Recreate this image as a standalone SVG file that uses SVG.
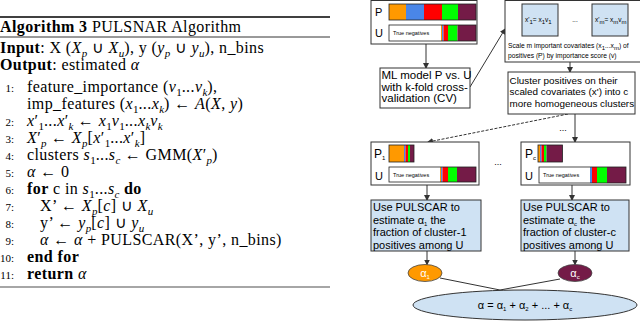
<svg xmlns="http://www.w3.org/2000/svg" width="640" height="322" viewBox="0 0 640 322">
<style>
.alg{font-family:"Liberation Serif","Times New Roman",serif;font-size:16px;letter-spacing:0.4px;fill:#000}
.b{font-weight:bold}
.i{font-style:italic}
.s{font-size:11px;baseline-shift:-3.5px;letter-spacing:0}
.n{font-size:11px;letter-spacing:0}
.sf{font-family:"Liberation Sans",Arial,sans-serif;fill:#000}
.t11{font-size:11px}
.box{fill:#fff;stroke:#333;stroke-width:1}
.lb{fill:#cfe2f3;stroke:#333;stroke-width:1}
.con{stroke:#333;stroke-width:1;fill:none}
.bar{fill:none;stroke:#222;stroke-width:0.8}
.o{fill:#ff9900}.bl{fill:#4a86e8}.r{fill:#ff0000}.g{fill:#00ff00}.p{fill:#741b47}
.sub{font-size:6px;baseline-shift:-2px}
</style>
<defs>
<marker id="ah" markerWidth="6" markerHeight="6" refX="5" refY="3" orient="auto" markerUnits="userSpaceOnUse">
<path d="M0,0 L6,3 L0,6 z" fill="#333"/>
</marker>
</defs>

<g id="algorithm">
<line x1="0" y1="17" x2="330" y2="17" stroke="#000" stroke-width="1.6"/>
<text class="alg" x="0" y="32"><tspan class="b">Algorithm 3</tspan> PULSNAR Algorithm</text>
<line x1="0" y1="37" x2="330" y2="37" stroke="#000" stroke-width="0.8"/>
<text class="alg" x="0" y="53"><tspan class="b">Input</tspan>: X (<tspan class="i">X</tspan><tspan class="s i">p</tspan> ∪ <tspan class="i">X</tspan><tspan class="s i">u</tspan>), y (<tspan class="i">y</tspan><tspan class="s i">p</tspan> ∪ <tspan class="i">y</tspan><tspan class="s i">u</tspan>), n_bins</text>
<text class="alg" x="0" y="70"><tspan class="b">Output</tspan>: estimated <tspan class="i">α</tspan></text>
<text class="alg n" x="14" y="92" text-anchor="end">1:</text>
<text class="alg" x="27" y="92">feature_importance (<tspan class="i">v</tspan><tspan class="s">1</tspan>...<tspan class="i">v</tspan><tspan class="s i">k</tspan>),</text>
<text class="alg" x="27" y="108.5">imp_features (<tspan class="i">x</tspan><tspan class="s">1</tspan>...<tspan class="i">x</tspan><tspan class="s i">k</tspan>) ← <tspan class="i">A</tspan>(<tspan class="i">X</tspan>, <tspan class="i">y</tspan>)</text>
<text class="alg n" x="14" y="125.5" text-anchor="end">2:</text>
<text class="alg" x="27" y="125.5"><tspan class="i">x</tspan>′<tspan class="s">1</tspan>...<tspan class="i">x</tspan>′<tspan class="s i">k</tspan> ← <tspan class="i">x</tspan><tspan class="s">1</tspan><tspan class="i">v</tspan><tspan class="s">1</tspan>...<tspan class="i">x</tspan><tspan class="s i">k</tspan><tspan class="i">v</tspan><tspan class="s i">k</tspan></text>
<text class="alg n" x="14" y="142.5" text-anchor="end">3:</text>
<text class="alg" x="27" y="142.5"><tspan class="i">X</tspan>′<tspan class="s i">p</tspan> ← <tspan class="i">X</tspan><tspan class="s i">p</tspan>[<tspan class="i">x</tspan>′<tspan class="s">1</tspan>...<tspan class="i">x</tspan>′<tspan class="s i">k</tspan>]</text>
<text class="alg n" x="14" y="159.5" text-anchor="end">4:</text>
<text class="alg" x="27" y="159.5">clusters <tspan class="i">s</tspan><tspan class="s">1</tspan>...<tspan class="i">s</tspan><tspan class="s i">c</tspan> ← GMM(<tspan class="i">X</tspan>′<tspan class="s i">p</tspan>)</text>
<text class="alg n" x="14" y="176.5" text-anchor="end">5:</text>
<text class="alg" x="27" y="176.5"><tspan class="i">α</tspan> ← 0</text>
<text class="alg n" x="14" y="193.5" text-anchor="end">6:</text>
<text class="alg" x="27" y="193.5"><tspan class="b">for</tspan> c in <tspan class="i">s</tspan><tspan class="s">1</tspan>...<tspan class="i">s</tspan><tspan class="s i">c</tspan> <tspan class="b">do</tspan></text>
<text class="alg n" x="14" y="210.5" text-anchor="end">7:</text>
<text class="alg" x="40" y="210.5">X’ ← <tspan class="i">X</tspan><tspan class="s i">p</tspan>[<tspan class="i">c</tspan>] ∪ <tspan class="i">X</tspan><tspan class="s i">u</tspan></text>
<text class="alg n" x="14" y="227.5" text-anchor="end">8:</text>
<text class="alg" x="40" y="227.5">y’ ← <tspan class="i">y</tspan><tspan class="s i">p</tspan>[<tspan class="i">c</tspan>] ∪ <tspan class="i">y</tspan><tspan class="s i">u</tspan></text>
<text class="alg n" x="14" y="244.5" text-anchor="end">9:</text>
<text class="alg" x="40" y="244.5"><tspan class="i">α</tspan> ← <tspan class="i">α</tspan> + PULSCAR(X’, y’, n_bins)</text>
<text class="alg n" x="14" y="261.5" text-anchor="end">10:</text>
<text class="alg" x="27" y="261.5"><tspan class="b">end for</tspan></text>
<text class="alg n" x="14" y="278.5" text-anchor="end">11:</text>
<text class="alg" x="27" y="278.5"><tspan class="b">return</tspan> <tspan class="i">α</tspan></text>
<line x1="0" y1="287" x2="330" y2="287" stroke="#888" stroke-width="1.6"/>
</g>

<g id="connectors">
<line class="con" x1="426" y1="44" x2="426" y2="68" marker-end="url(#ah)"/>
<line class="con" x1="470" y1="87" x2="505" y2="29" marker-end="url(#ah)"/>
<line class="con" x1="570" y1="62" x2="570" y2="72" marker-end="url(#ah)"/>
<line class="con" x1="575" y1="114" x2="575" y2="142" marker-end="url(#ah)"/>
<line class="con" x1="568" y1="114" x2="428" y2="142" stroke-dasharray="3 1.5" marker-end="url(#ah)"/>
<line class="con" x1="427" y1="185" x2="427" y2="200" marker-end="url(#ah)"/>
<line class="con" x1="572" y1="185" x2="572" y2="200" marker-end="url(#ah)"/>
<line class="con" x1="427" y1="251" x2="427" y2="264.5" marker-end="url(#ah)"/>
<line class="con" x1="575" y1="251" x2="575" y2="264.5" marker-end="url(#ah)"/>
<line class="con" x1="440" y1="278" x2="500" y2="290"/>
<line class="con" x1="560" y1="279" x2="500" y2="290"/>
</g>

<g id="node-pu">
<rect class="box" x="371" y="0.5" width="106" height="43.5"/>
<text class="sf" x="375" y="16" font-size="11">P</text>
<text class="sf" x="375" y="37" font-size="11">U</text>
<rect class="o" x="389" y="4" width="17" height="16"/>
<rect class="bl" x="406" y="4" width="18" height="16"/>
<rect class="r" x="424" y="4" width="18" height="16"/>
<rect class="g" x="442" y="4" width="16" height="16"/>
<rect class="p" x="458" y="4" width="18" height="16"/>
<rect class="bar" x="389" y="4" width="87" height="16"/>
<rect x="389" y="25" width="52" height="16" fill="#fff"/>
<text class="sf" x="393" y="35" font-size="5.5">True negatives</text>
<rect class="o" x="441" y="25" width="1" height="16"/>
<rect class="bl" x="442" y="25" width="1.5" height="16"/>
<rect class="r" x="443.5" y="25" width="4.5" height="16"/>
<rect class="g" x="448" y="25" width="9.5" height="16"/>
<rect class="p" x="457.5" y="25" width="18.5" height="16"/>
<rect class="bar" x="389" y="25" width="87" height="16"/>
</g>

<g id="node-ml">
<rect class="box" x="380" y="68" width="90" height="40"/>
<text class="sf" x="381.5" y="79" font-size="11.5">ML model P vs. U</text>
<text class="sf" x="381.5" y="90.5" font-size="11.5">with k-fold cross-</text>
<text class="sf" x="381.5" y="102" font-size="11.5">validation (CV)</text>
</g>

<g id="node-scale">
<rect class="box" x="505" y="0.5" width="140" height="61.5"/>
<rect class="lb" x="522" y="4" width="36" height="32"/>
<rect class="lb" x="592" y="4" width="36" height="32"/>
<text class="sf" x="525" y="22" font-size="6.5">x'<tspan class="sub">1</tspan>= x<tspan class="sub">1</tspan>v<tspan class="sub">1</tspan></text>
<text class="sf" x="575" y="22" font-size="6.5" text-anchor="middle">...</text>
<text class="sf" x="595" y="22" font-size="6.5">x'<tspan class="sub">m</tspan>= x<tspan class="sub">m</tspan>v<tspan class="sub">m</tspan></text>
<text class="sf" x="508" y="48" font-size="6.7">Scale m important covariates (x<tspan class="sub">1</tspan>...x<tspan class="sub">m</tspan>) of</text>
<text class="sf" x="508" y="58" font-size="6.7">positives (P) by importance score (v)</text>
</g>

<g id="node-cluster">
<rect class="box" x="508" y="72" width="127" height="42"/>
<text class="sf" x="509.5" y="83.5" font-size="9.9">Cluster positives on their</text>
<text class="sf" x="509.5" y="95" font-size="9.9">scaled covariates (x') into c</text>
<text class="sf" x="509.5" y="106.5" font-size="9.9">more homogeneous clusters</text>
</g>

<text class="sf" x="563" y="131" font-size="9" text-anchor="middle">...</text>
<text class="sf" x="498" y="165" font-size="9" text-anchor="middle">...</text>

<g id="node-p1">
<rect class="box" x="371" y="142" width="108" height="43"/>
<text class="sf" x="374" y="158" font-size="12">P<tspan class="sub">1</tspan></text>
<text class="sf" x="375" y="180" font-size="11">U</text>
<rect class="o" x="389" y="145" width="15" height="17"/>
<rect class="bl" x="404" y="145" width="1.5" height="17"/>
<rect class="r" x="405.5" y="145" width="2.5" height="17"/>
<rect class="g" x="408" y="145" width="2" height="17"/>
<rect class="p" x="410" y="145" width="4" height="17"/>
<rect class="bar" x="389" y="145" width="25" height="17"/>
<rect x="389" y="167" width="51" height="15" fill="#fff"/>
<text class="sf" x="393" y="177" font-size="5.5">True negatives</text>
<rect class="o" x="440" y="167" width="1" height="15"/>
<rect class="bl" x="441" y="167" width="1.5" height="15"/>
<rect class="r" x="442.5" y="167" width="5.5" height="15"/>
<rect class="g" x="448" y="167" width="9" height="15"/>
<rect class="p" x="457" y="167" width="19" height="15"/>
<rect class="bar" x="389" y="167" width="87" height="15"/>
</g>

<g id="node-pc">
<rect class="box" x="521" y="142" width="109" height="43"/>
<text class="sf" x="525" y="158" font-size="12">P<tspan class="sub">c</tspan></text>
<text class="sf" x="525" y="180" font-size="11">U</text>
<rect class="o" x="538" y="145" width="2" height="17"/>
<rect class="bl" x="540" y="145" width="1.5" height="17"/>
<rect class="r" x="541.5" y="145" width="2.5" height="17"/>
<rect class="g" x="544" y="145" width="2.5" height="17"/>
<rect class="p" x="546.5" y="145" width="16" height="17"/>
<rect class="bar" x="538" y="145" width="24.5" height="17"/>
<rect x="539" y="167" width="51" height="16" fill="#fff"/>
<text class="sf" x="543" y="177" font-size="5.5">True negatives</text>
<rect class="bl" x="590" y="167" width="2" height="16"/>
<rect class="r" x="592" y="167" width="5" height="16"/>
<rect class="g" x="597" y="167" width="10" height="16"/>
<rect class="p" x="607" y="167" width="19" height="16"/>
<rect class="bar" x="539" y="167" width="87" height="16"/>
</g>

<g id="node-pulscar1">
<rect class="lb" x="371" y="200" width="110" height="51"/>
<text class="sf t11" x="373" y="211">Use PULSCAR to</text>
<text class="sf t11" x="373" y="223.5">estimate α<tspan class="sub">1</tspan> the</text>
<text class="sf t11" x="373" y="236">fraction of cluster-1</text>
<text class="sf t11" x="373" y="248.5">positives among U</text>
</g>

<g id="node-pulscarc">
<rect class="lb" x="521" y="200" width="108" height="51"/>
<text class="sf t11" x="523" y="211">Use PULSCAR to</text>
<text class="sf t11" x="523" y="223.5">estimate α<tspan class="sub">c</tspan> the</text>
<text class="sf t11" x="523" y="236">fraction of cluster-c</text>
<text class="sf t11" x="523" y="248.5">positives among U</text>
</g>

<g id="node-alpha1">
<ellipse cx="425" cy="273" rx="17" ry="8.5" fill="#ff9900" stroke="#444" stroke-width="0.8"/>
<text class="sf" x="425" y="277" font-size="11" style="fill:#fff" text-anchor="middle">α<tspan class="sub">1</tspan></text>
</g>

<g id="node-alphac">
<ellipse cx="575" cy="273" rx="17" ry="8.5" fill="#741b47" stroke="#444" stroke-width="0.8"/>
<text class="sf" x="575" y="277" font-size="11" style="fill:#fff" text-anchor="middle">α<tspan class="sub">c</tspan></text>
</g>

<g id="node-sum">
<ellipse cx="525" cy="305" rx="112" ry="15" fill="#cfe2f3" stroke="#333" stroke-width="1"/>
<text class="sf" x="525" y="309" font-size="11" text-anchor="middle">α = α<tspan class="sub">1</tspan> + α<tspan class="sub">2</tspan> + ... + α<tspan class="sub">c</tspan></text>
</g>
</svg>
